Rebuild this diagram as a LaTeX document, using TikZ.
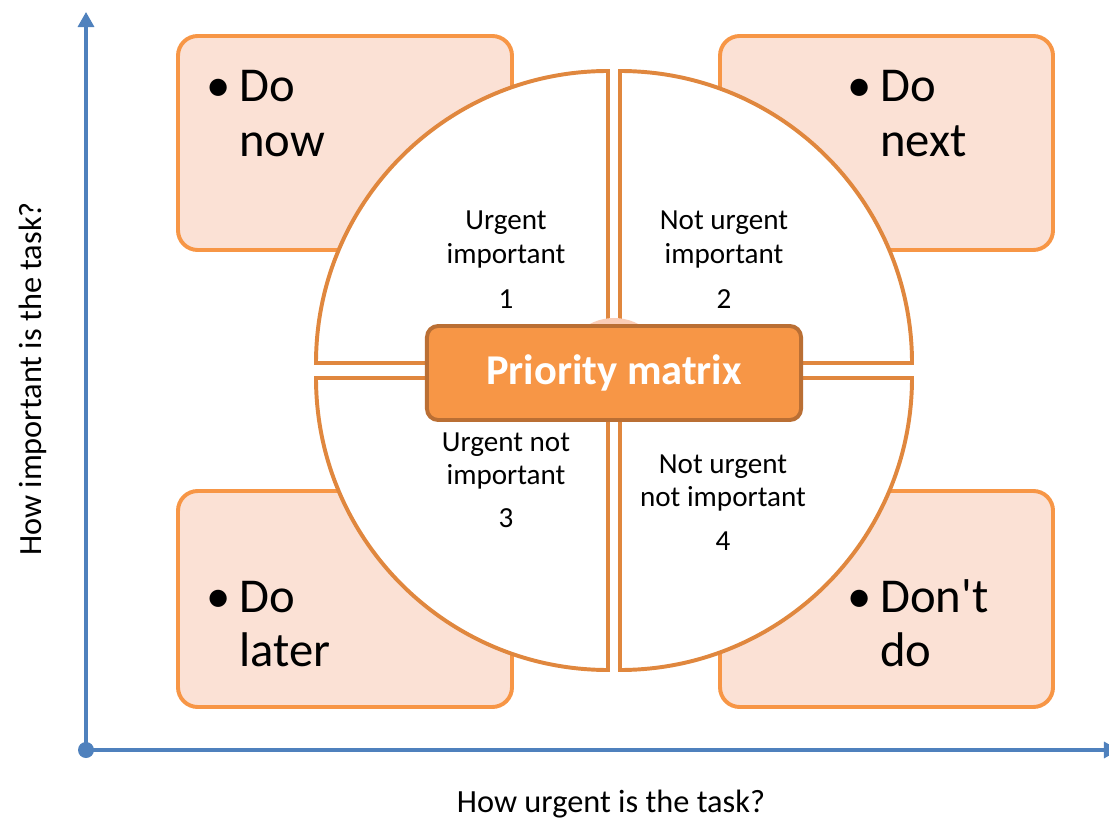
\documentclass[tikz,border=0pt]{standalone}
\usepackage{fontspec}
\setmainfont{Carlito}
\usetikzlibrary{arrows.meta}
\definecolor{axisblue}{HTML}{4F81BD}
\definecolor{boxfill}{HTML}{FBE1D5}
\definecolor{boxline}{HTML}{F79646}
\definecolor{quarterline}{HTML}{E0873E}
\definecolor{hubfill}{HTML}{F79646}
\definecolor{hubline}{HTML}{BA6F34}
\definecolor{hubglow}{HTML}{FBCDB6}
\newcommand{\bul}{\makebox[23.5pt][l]{\textbullet}}
\newcommand{\nobul}{\hspace*{23.5pt}}
\begin{document}
\begin{tikzpicture}[x=0.025cm, y=0.025cm,
    cornerbox/.style={draw=boxline, fill=boxfill, line width=2.8pt, rounded corners=14pt},
    quarter/.style={draw=quarterline, fill=white, line width=2.8pt},
    hub/.style={draw=hubline, fill=hubfill, line width=2.8pt, rounded corners=8pt,
        minimum width=9.35cm, minimum height=2.35cm, text=white,
        font=\fontsize{30.2}{36}\selectfont\bfseries},
    bigtext/.style={inner sep=0pt, anchor=base west, font=\fontsize{34.6}{39.1}\selectfont},
    quadtext/.style={inner sep=0pt, anchor=base, font=\fontsize{20.7}{23.5}\selectfont},
    axis/.style={draw=axisblue, line width=2.3pt, -{Triangle[length=10.7pt, width=11.4pt]}},
    axislabel/.style={inner sep=0pt, font=\fontsize{23}{27}\selectfont}]
    % 1. 画布范围
    \useasboundingbox (0,0) rectangle (1109,818);
    % 2. 定义坐标
    \coordinate (O) at (86,68);
    \coordinate (Ytop) at (86,806);
    \coordinate (Xend) at (1119,68);
    \coordinate (M) at (614,448);
    % 3. 四个角上的方框
    \draw[cornerbox] (178,782) rectangle (512,568);
    \draw[cornerbox] (720,782) rectangle (1053,568);
    \draw[cornerbox] (178,327) rectangle (512,111);
    \draw[cornerbox] (720,327) rectangle (1053,111);
    % 4. 分开的四分之一圆
    \draw[quarter] (608,455) -- (316,455) arc[start angle=180, end angle=90, radius=292] -- cycle;
    \draw[quarter] (620,455) -- (620,747) arc[start angle=90, end angle=0, radius=292] -- cycle;
    \draw[quarter] (608,440) -- (608,148) arc[start angle=270, end angle=180, radius=292] -- cycle;
    \draw[quarter] (620,440) -- (912,440) arc[start angle=0, end angle=-90, radius=292] -- cycle;
    % 5. 中心
    \fill[hubglow] (M) circle[radius=52];
    \node[hub] (hub) at (614,445) {Priority matrix};
    % 6. 坐标轴
    \draw[axis] (O) -- (Ytop);
    \draw[axis] (O) -- (Xend);
    \fill[axisblue] (O) circle[radius=8];
    \node[axislabel, rotate=90] (ylab) at (33,439) {How important is the task?};
    \node[axislabel, anchor=base] (xlab) at (611,6) {How urgent is the task?};
    % 7. 角上文字
    \node[bigtext] (now) at (206,716) {\begin{tabular}[t]{@{}l@{}}\bul Do\\\nobul now\end{tabular}};
    \node[bigtext] (next) at (847,716) {\begin{tabular}[t]{@{}l@{}}\bul Do\\\nobul next\end{tabular}};
    \node[bigtext] (later) at (206,206) {\begin{tabular}[t]{@{}l@{}}\bul Do\\\nobul later\end{tabular}};
    \node[bigtext] (dont) at (847,206) {\begin{tabular}[t]{@{}l@{}}\bul Don\textquotesingle t\\\nobul do\end{tabular}};
    % 8. 象限文字与编号
    \node[quadtext] (q1) at (506,588) {\begin{tabular}[t]{@{}c@{}}Urgent\\important\end{tabular}};
    \node[quadtext] (n1) at (506,510) {1};
    \node[quadtext] (q2) at (724,588) {\begin{tabular}[t]{@{}c@{}}Not urgent\\important\end{tabular}};
    \node[quadtext] (n2) at (724,510) {2};
    \node[quadtext] (q3) at (506,367) {\begin{tabular}[t]{@{}c@{}}Urgent not\\important\end{tabular}};
    \node[quadtext] (n3) at (506,291) {3};
    \node[quadtext] (q4) at (723,345) {\begin{tabular}[t]{@{}c@{}}Not urgent\\not important\end{tabular}};
    \node[quadtext] (n4) at (723,268) {4};
\end{tikzpicture}
\end{document}
